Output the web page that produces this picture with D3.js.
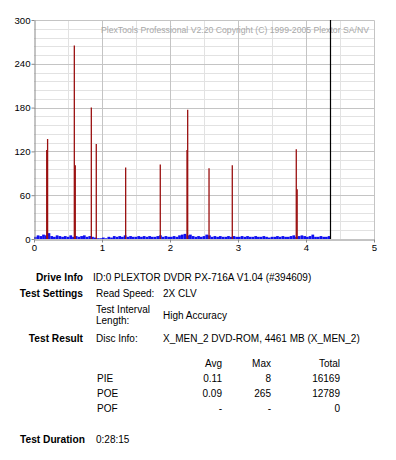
<!DOCTYPE html>
<html>
<head>
<meta charset="utf-8">
<script src="https://cdn.jsdelivr.net/npm/d3@7"></script>
<style>
  body { margin: 0; background: #fff; }
  text { font-family: "Liberation Sans", Arial, sans-serif; }
</style>
</head>
<body>
<div class="scan-chart"></div>
<script>
// POE spikes: [position (GB), count]
const poe = [
  [0.187, 122], [0.20, 137], [0.593, 265], [0.607, 101], [0.843, 180],
  [0.916, 130], [1.348, 98], [1.857, 102], [2.25, 122], [2.26, 177],
  [2.574, 97], [2.916, 101], [3.857, 123], [3.87, 68]
]

// PIE samples, one every 0.04 GB from 0
const pieStep = 0.04
const pie = [
  3, 5, 4, 6, 5, 8, 4, 3, 5, 4,
  3, 4, 3, 5, 3, 4, 3, 4, 5, 3,
  4, 3, 2, 1, 1, 2, 1, 3, 2, 4,
  3, 4, 3, 5, 3, 4, 3, 3, 4, 3,
  4, 3, 4, 3, 3, 4, 5, 3, 4, 3,
  3, 4, 3, 5, 6, 7, 5, 6, 4, 3,
  4, 3, 4, 6, 5, 3, 4, 3, 4, 3,
  3, 4, 3, 4, 3, 3, 4, 3, 4, 3,
  3, 4, 3, 3, 4, 3, 2, 3, 3, 4,
  3, 4, 3, 3, 4, 5, 3, 4, 5, 4,
  3, 4, 6, 3, 3, 4, 3, 3, 4
]

const discEnd = 4.356
const yTicks = [0, 60, 120, 180, 240, 300]
const xTicks = [0, 1, 2, 3, 4, 5]

const infoRows = [
  { label: "Drive Info", y: 281, cells: [["ID:0 PLEXTOR DVDR PX-716A V1.04 (#394609)", 93]] },
  { label: "Test Settings", y: 297, cells: [["Read Speed:", 96], ["2X CLV", 163]] },
  { label: "", y: 313, cells: [["Test Interval", 96]] },
  { label: "", y: 324, cells: [["Length:", 96]] },
  { label: "", y: 319, cells: [["High Accuracy", 163]] },
  { label: "Test Result", y: 342, cells: [["Disc Info:", 96], ["X_MEN_2 DVD-ROM, 4461 MB (X_MEN_2)", 163]] }
]

const statCols = ["Avg", "Max", "Total"]
const statRows = [
  ["PIE", "0.11", "8", "16169"],
  ["POE", "0.09", "265", "12789"],
  ["POF", "-", "-", "0"]
]

const svg = d3.select(".scan-chart")
  .append("svg")
  .attr("width", 396)
  .attr("height", 460)

const pLeft = 34, pRight = 374, pTop = 20, pBottom = 239

const x = d3.scaleLinear().domain([0, 5]).range([pLeft, pRight])
const y = d3.scaleLinear().domain([0, 300]).range([pBottom, pTop])

// grid
const grid = svg.append("g")
grid.selectAll(".vminor")
  .data(d3.range(0.5, 5, 1))
  .join("line")
  .attr("x1", d => x(d) + 0.5).attr("x2", d => x(d) + 0.5)
  .attr("y1", pTop).attr("y2", pBottom)
  .attr("stroke", "#e2e2e2")
grid.selectAll(".hminor")
  .data(d3.range(12, 300, 12).filter(d => d % 60 !== 0))
  .join("line")
  .attr("x1", pLeft).attr("x2", pRight)
  .attr("y1", d => Math.round(y(d)) + 0.5).attr("y2", d => Math.round(y(d)) + 0.5)
  .attr("stroke", "#e2e2e2")
grid.selectAll(".vmajor")
  .data([1, 2, 3, 4])
  .join("line")
  .attr("x1", d => x(d) + 0.5).attr("x2", d => x(d) + 0.5)
  .attr("y1", pTop).attr("y2", pBottom)
  .attr("stroke", "#c4c4c4")
grid.selectAll(".hmajor")
  .data([60, 120, 180, 240])
  .join("line")
  .attr("x1", pLeft).attr("x2", pRight)
  .attr("y1", d => Math.round(y(d)) + 0.5).attr("y2", d => Math.round(y(d)) + 0.5)
  .attr("stroke", "#c4c4c4")

// frame
svg.append("path")
  .attr("d", `M${pLeft + 0.5},${pTop + 0.5}H${pRight + 0.5}V${pBottom + 0.5}`)
  .attr("fill", "none")
  .attr("stroke", "#c4c4c4")

// watermark
svg.append("text")
  .attr("x", 101)
  .attr("y", 33)
  .attr("font-size", 8.6)
  .attr("textLength", 268)
  .attr("lengthAdjust", "spacingAndGlyphs")
  .attr("fill", "#a8a8a8")
  .text("PlexTools Professional V2.20 Copyright (C) 1999-2005 Plextor SA/NV")

// PIE
const barW = x(pieStep) - x(0)
svg.append("g")
  .selectAll("rect")
  .data(pie)
  .join("rect")
  .attr("x", (d, i) => x(i * pieStep))
  .attr("y", d => y(d))
  .attr("width", (d, i) => Math.min(barW, x(discEnd) - x(i * pieStep)))
  .attr("height", d => y(0) - y(d))
  .attr("fill", "#1010f0")

// POE
svg.append("g")
  .selectAll("line")
  .data(poe)
  .join("line")
  .attr("x1", d => x(d[0])).attr("x2", d => x(d[0]))
  .attr("y1", y(0)).attr("y2", d => y(d[1]))
  .attr("stroke", "#9a1010")
  .attr("stroke-width", 1.3)

// end of disc
svg.append("line")
  .attr("x1", Math.round(x(discEnd)) + 0.5).attr("x2", Math.round(x(discEnd)) + 0.5)
  .attr("y1", pTop).attr("y2", pBottom)
  .attr("stroke", "#000")
  .attr("stroke-width", 1.2)

// axes
const yAxis = svg.append("g")
  .attr("transform", `translate(${pLeft + 0.5},0)`)
  .call(d3.axisLeft(y).tickValues(yTicks).tickSize(3).tickPadding(1).tickSizeOuter(0))
const xAxis = svg.append("g")
  .attr("transform", `translate(0,${pBottom + 0.5})`)
  .call(d3.axisBottom(x).tickValues(xTicks).tickFormat(d3.format("d"))
    .tickSize(3).tickPadding(2).tickSizeOuter(0))

yAxis.select(".domain").attr("stroke", "#888")
xAxis.select(".domain").attr("stroke", "#888")
svg.selectAll(".tick line").attr("stroke", "#888")
svg.selectAll(".tick text")
  .attr("font-size", 9.6)
  .attr("font-family", "Liberation Sans, Arial, sans-serif")
  .attr("fill", "#000")

// info block
const info = svg.append("g").attr("font-size", 10)
infoRows.forEach(r => {
  if (r.label) {
    info.append("text")
      .attr("x", 83).attr("y", r.y)
      .attr("text-anchor", "end")
      .attr("font-weight", "bold")
      .attr("font-size", 10.2)
      .text(r.label)
  }
  r.cells.forEach(c => {
    info.append("text").attr("x", c[1]).attr("y", r.y).text(c[0])
  })
})

// stats table
const colX = [222, 271, 340]
statCols.forEach((c, i) => {
  info.append("text").attr("x", colX[i]).attr("y", 367).attr("text-anchor", "end").text(c)
})
statRows.forEach((row, j) => {
  const yy = 382 + j * 15
  info.append("text").attr("x", 97).attr("y", yy).text(row[0])
  row.slice(1).forEach((v, i) => {
    info.append("text").attr("x", colX[i]).attr("y", yy).attr("text-anchor", "end").text(v)
  })
})

info.append("text")
  .attr("x", 20).attr("y", 443)
  .attr("font-weight", "bold")
  .attr("font-size", 10.2)
  .text("Test Duration")
info.append("text").attr("x", 96).attr("y", 443).text("0:28:15")
</script>
</body>
</html>
